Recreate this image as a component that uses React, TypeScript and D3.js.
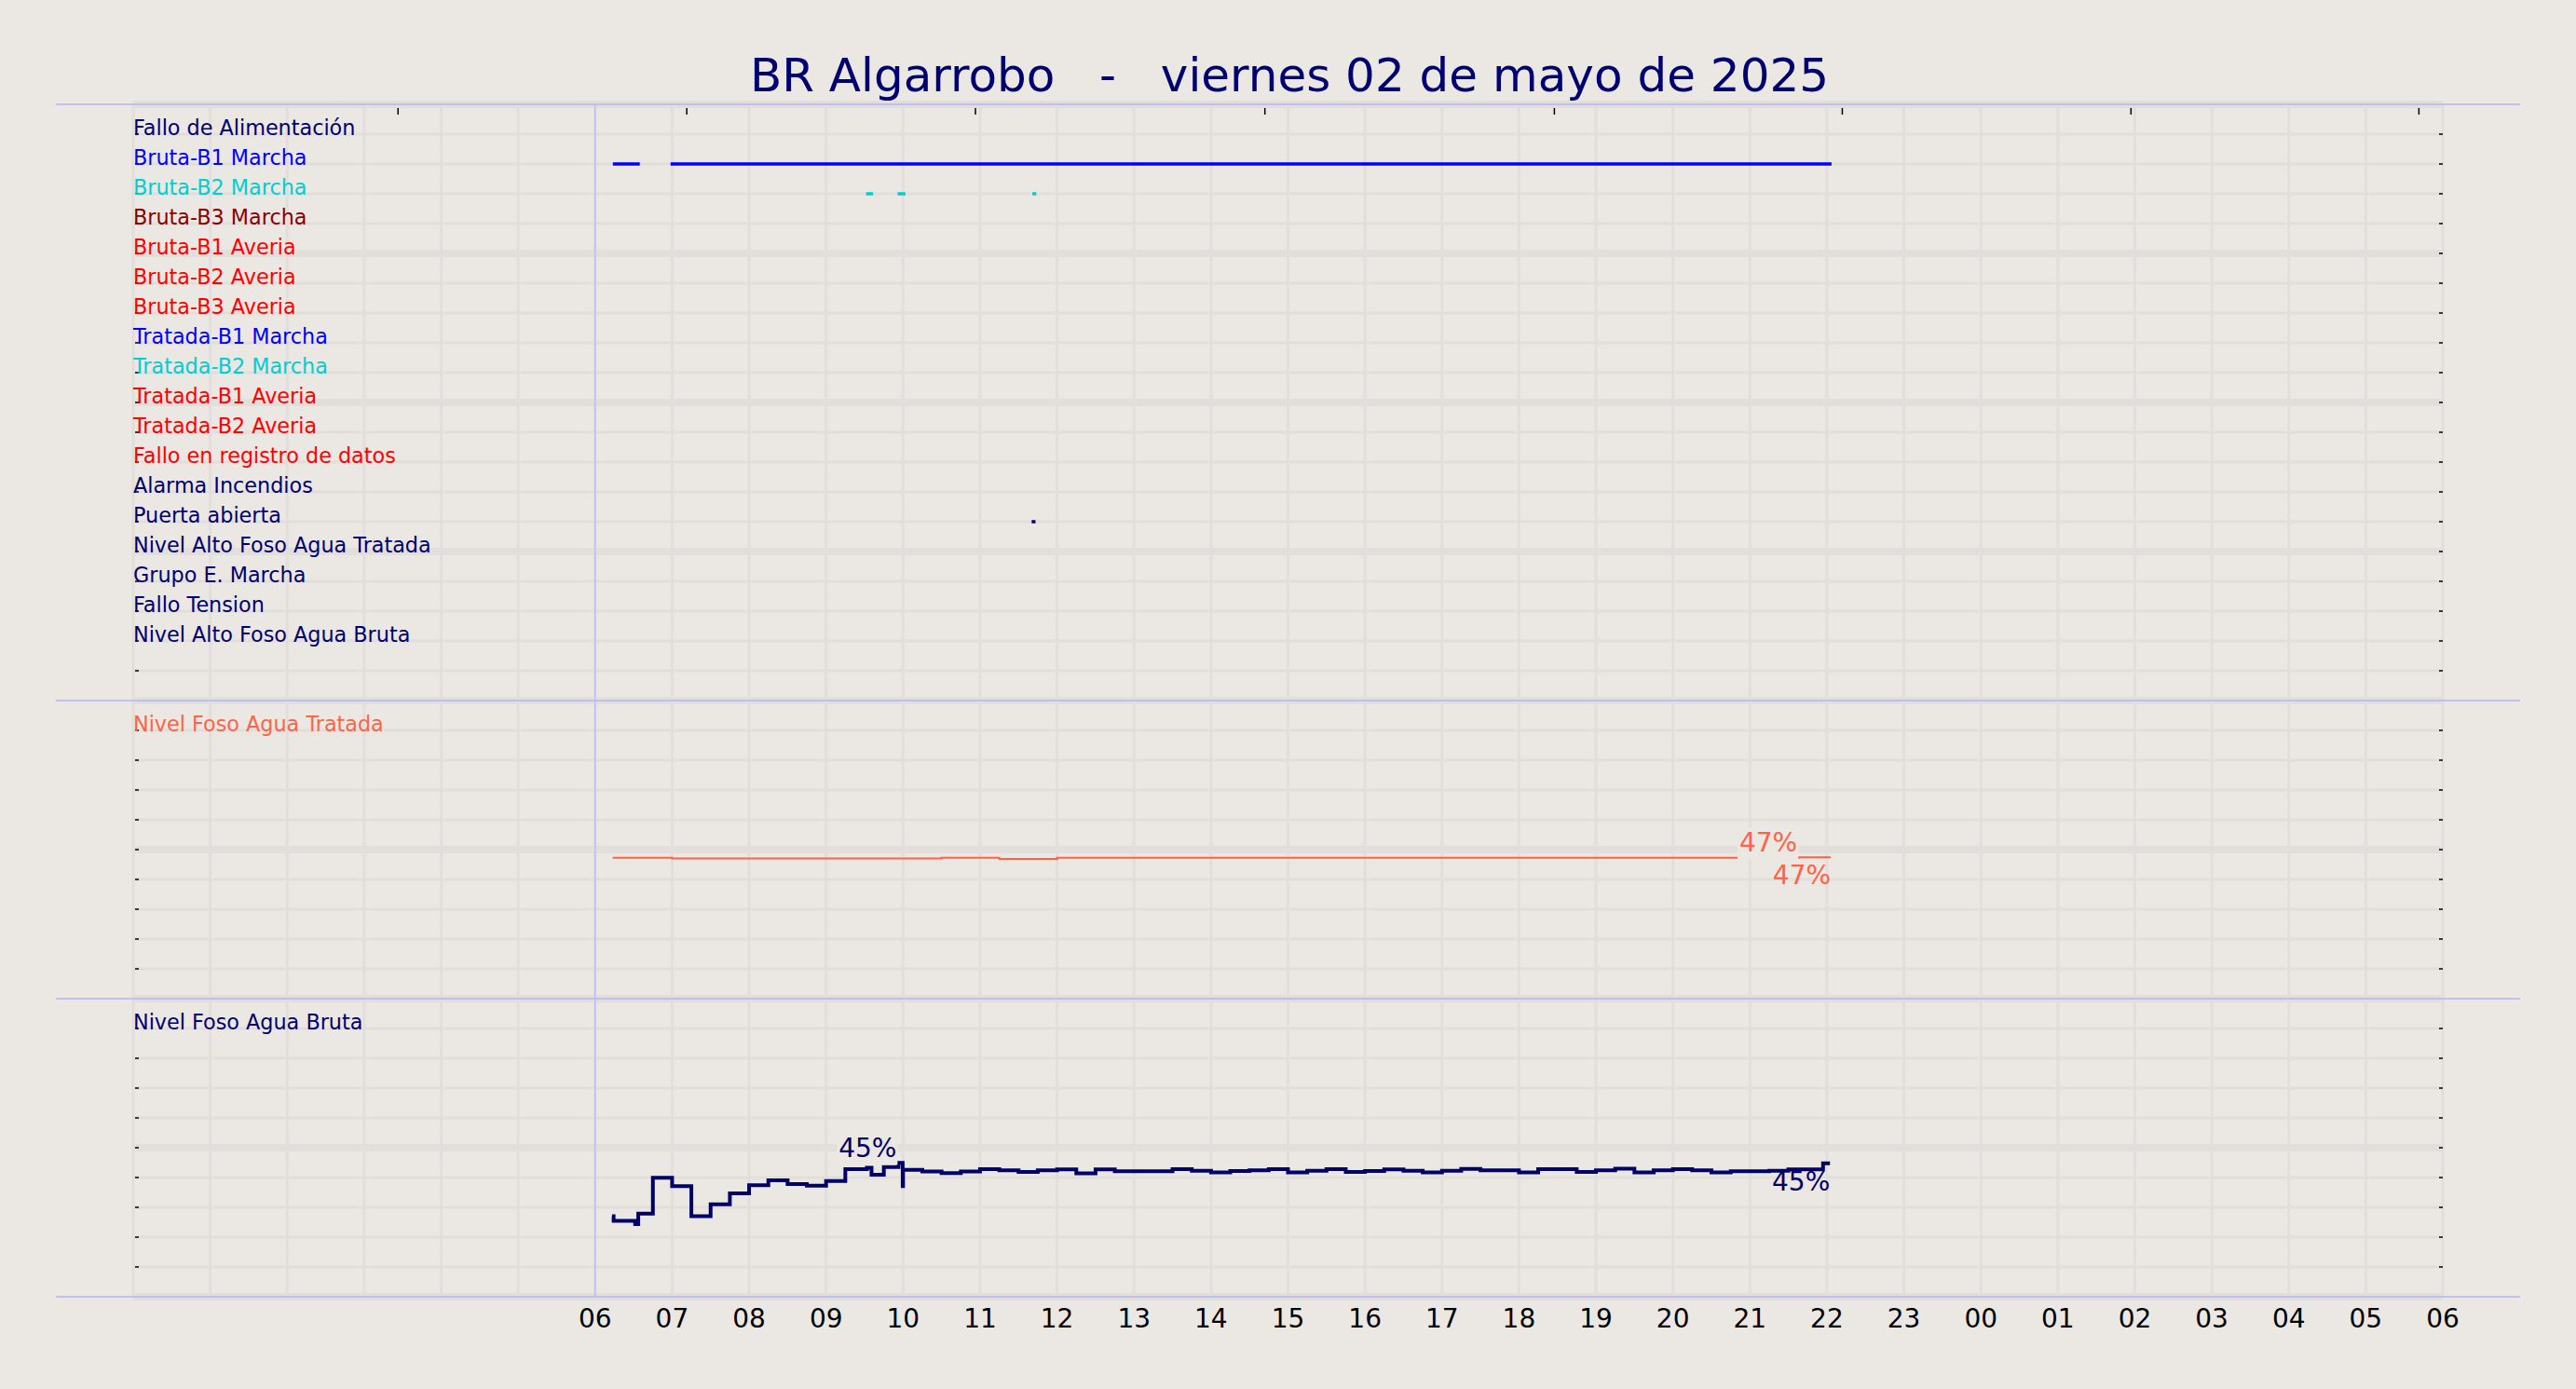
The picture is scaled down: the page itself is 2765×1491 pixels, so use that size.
import React from 'react';
import * as d3 from 'd3';

const W = 2765;
const H = 1491;

// ---- data ----
const titleText = 'BR Algarrobo   -   viernes 02 de mayo de 2025';

const rowLabels = [
  'Fallo de Alimentación',
  'Bruta-B1 Marcha',
  'Bruta-B2 Marcha',
  'Bruta-B3 Marcha',
  'Bruta-B1 Averia',
  'Bruta-B2 Averia',
  'Bruta-B3 Averia',
  'Tratada-B1 Marcha',
  'Tratada-B2 Marcha',
  'Tratada-B1 Averia',
  'Tratada-B2 Averia',
  'Fallo en registro de datos',
  'Alarma Incendios',
  'Puerta abierta',
  'Nivel Alto Foso Agua Tratada',
  'Grupo E. Marcha',
  'Fallo Tension',
  'Nivel Alto Foso Agua Bruta',
];
const rowColors = [
  '#000070', '#0000ff', '#00ced1', '#8b0000', '#ff0000', '#ff0000', '#ff0000',
  '#0000ff', '#00ced1', '#ff0000', '#ff0000', '#ff0000', '#000070', '#000070',
  '#000070', '#000070', '#000070', '#000070',
];

// on-intervals (hours) for digital signals, keyed by row index
const brutaB1Marcha: [number, number][] = [[6.23, 6.58], [6.98, 22.06]];
const brutaB2Marcha: [number, number][] = [[9.52, 9.61], [9.93, 10.03], [11.68, 11.73]];
const puertaAbierta: [number, number][] = [[11.67, 11.72]];

const xTickHours = [6, 7, 8, 9, 10, 11, 12, 13, 14, 15, 16, 17, 18, 19, 20, 21, 22, 23, 24, 25, 26, 27, 28, 29, 30];
const xTickLabels = ['06', '07', '08', '09', '10', '11', '12', '13', '14', '15', '16', '17', '18', '19', '20', '21', '22', '23', '00', '01', '02', '03', '04', '05', '06'];
const topTickHours = [3.44, 7.19, 10.94, 14.7, 18.46, 22.2, 25.95, 29.69];

// Nivel Foso Agua Tratada (%): [hour, value]
const tratadaLevel: [number, number][] = [
  [6.23, 47.3], [7.0, 47.0], [10.0, 47.0], [10.5, 47.3], [11.25, 46.9],
  [12.0, 47.3], [21.64, 47.4], [22.05, 47.4],
];

// Nivel Foso Agua Bruta (%): [hour, value]
const brutaLevel: [number, number][] = [
  [6.22, 27.0], [6.24, 25.5], [6.52, 24.4], [6.56, 27.9], [6.75, 39.9],
  [7.0, 37.1], [7.25, 27.0], [7.5, 31.0], [7.75, 34.7], [8.0, 37.4],
  [8.25, 39.1], [8.5, 37.8], [8.75, 37.3], [9.0, 38.8], [9.25, 42.8],
  [9.53, 43.3], [9.59, 40.9], [9.75, 43.5], [9.94, 44.9], [9.995, 37.1],
  [10.0, 42.6], [10.25, 42.0], [10.5, 41.5], [10.75, 42.0], [11.0, 42.8],
  [11.25, 42.4], [11.5, 41.9], [11.75, 42.4], [12.0, 42.7], [12.25, 41.4],
  [12.5, 42.7], [12.75, 42.1], [13.5, 42.8], [13.75, 42.3], [14.0, 41.7],
  [14.25, 42.2], [14.5, 42.4], [14.75, 42.8], [15.0, 41.7], [15.25, 42.3],
  [15.5, 42.8], [15.75, 41.9], [16.0, 42.2], [16.25, 42.7], [16.5, 42.3],
  [16.75, 41.7], [17.0, 42.3], [17.25, 42.9], [17.5, 42.4], [18.0, 41.7],
  [18.25, 42.8], [18.75, 41.9], [19.0, 42.4], [19.25, 43.0], [19.5, 41.7],
  [19.75, 42.4], [20.0, 42.8], [20.25, 42.4], [20.5, 41.7], [20.75, 42.1],
  [21.25, 42.3], [21.5, 42.7], [21.95, 44.8], [22.04, 44.8],
];

// ---- styles ----
const BG = '#ebe7e2';
const GRID = '#e2dedc';
const SEP = '#b4b4fb';
const FONT = 'DejaVu Sans, Liberation Sans, sans-serif';

const x = d3.scaleLinear().domain([0, 30]).range([143, 2622]);
const yTop = d3.scaleLinear().domain([0, 20]).range([752, 112]);
const yMid = d3.scaleLinear().domain([0, 100]).range([1072, 752]);
const yBot = d3.scaleLinear().domain([0, 100]).range([1392, 1072]);

function Panel({ y, minorStep, majorStep, max, tickVals }: any) {
  const vals = d3.range(0, max + 0.001, minorStep);
  return (
    <g>
      {vals.filter((v) => Math.abs(v % majorStep) > 1e-6).map((v) => (
        <line key={'mi' + v} x1={x(0)} x2={x(30)} y1={y(v)} y2={y(v)} stroke={GRID} strokeWidth={3} />
      ))}
      {vals.filter((v) => Math.abs(v % majorStep) < 1e-6).map((v) => (
        <line key={'ma' + v} x1={x(0)} x2={x(30)} y1={y(v)} y2={y(v)} stroke={GRID} strokeWidth={8} />
      ))}
      {tickVals.map((v: number) => (
        <g key={'t' + v}>
          <line x1={x(0) + 2} x2={x(0) + 6} y1={y(v)} y2={y(v)} stroke="#000" strokeWidth={1.5} />
          <line x1={x(30) - 4} x2={x(30)} y1={y(v)} y2={y(v)} stroke="#000" strokeWidth={1.5} />
        </g>
      ))}
    </g>
  );
}

function LevelSeries({ data, y, color, width }: any) {
  const line = d3.line<[number, number]>()
    .x((d) => x(d[0]))
    .y((d) => y(d[1]))
    .curve(d3.curveStepAfter);
  const peakIdx = d3.maxIndex(data, (d: [number, number]) => d[1]);
  const peak = data[peakIdx];
  const last = data[data.length - 1];
  const fs = 28;
  const lw = fs * 2.22;
  const px = x(peak[0]) - 1;
  const py = y(peak[1]) - 6;
  return (
    <g>
      <path d={line(data) || ''} fill="none" stroke={color} strokeWidth={width} strokeLinejoin="miter" />
      <rect x={px - lw - 3} y={py - fs * 0.95} width={lw + 3} height={fs * 0.95 + 8} fill={BG} />
      <text x={px - 1} y={py} textAnchor="end" fontSize={fs} fill={color} fontFamily={FONT}>
        {`${Math.round(peak[1])}%`}
      </text>
      <text x={x(last[0])} y={y(last[1]) + 29} textAnchor="end" fontSize={fs} fill={color} fontFamily={FONT}>
        {`${Math.round(last[1])}%`}
      </text>
    </g>
  );
}

export default function App() {
  const topTicks = d3.range(1, 20);
  const pctTicks = d3.range(10, 100, 10);
  const digital: { row: number; segs: [number, number][] }[] = [
    { row: 1, segs: brutaB1Marcha },
    { row: 2, segs: brutaB2Marcha },
    { row: 13, segs: puertaAbierta },
  ];
  return (
    <svg width={W} height={H} style={{ position: 'absolute', left: 0, top: 0, display: 'block' }}>
      <rect x={0} y={0} width={W} height={H} fill={BG} />

      {/* vertical hourly gridlines */}
      {d3.range(0, 31).map((h) => (
        <line key={'vg' + h} x1={x(h)} x2={x(h)} y1={112} y2={1392} stroke={GRID} strokeWidth={3} />
      ))}

      <Panel y={yTop} minorStep={1} majorStep={5} max={20} tickVals={topTicks} />
      <Panel y={yMid} minorStep={10} majorStep={50} max={100} tickVals={pctTicks} />
      <Panel y={yBot} minorStep={10} majorStep={50} max={100} tickVals={pctTicks} />

      {/* top ticks */}
      {topTickHours.map((h) => (
        <line key={'tt' + h} x1={x(h)} x2={x(h)} y1={116} y2={123} stroke="#000" strokeWidth={1.5} />
      ))}

      {/* separators */}
      {[112, 752, 1072, 1392].map((yy) => (
        <line key={'s' + yy} x1={60} x2={2705} y1={yy} y2={yy} stroke={SEP} strokeWidth={1.5} />
      ))}
      <line x1={x(6)} x2={x(6)} y1={112} y2={1391} stroke={SEP} strokeWidth={1.2} />

      {/* row labels */}
      {rowLabels.map((lab, i) => (
        <text key={lab} x={143} y={yTop(19 - i) + 0.5} fontSize={22.3} fill={rowColors[i]} fontFamily={FONT}>
          {lab}
        </text>
      ))}
      <text x={143} y={yMid(90) + 0.5} fontSize={22.3} fill="#ff6347" fontFamily={FONT}>Nivel Foso Agua Tratada</text>
      <text x={143} y={yBot(90) + 0.5} fontSize={22.3} fill="#000070" fontFamily={FONT}>Nivel Foso Agua Bruta</text>

      {/* digital signals */}
      {digital.map((d) =>
        d.segs.map((s, k) => (
          <line key={d.row + '-' + k} x1={x(s[0])} x2={x(s[1])} y1={yTop(19 - d.row)} y2={yTop(19 - d.row)}
            stroke={rowColors[d.row]} strokeWidth={3.5} />
        ))
      )}

      <LevelSeries data={tratadaLevel} y={yMid} color="#ff6347" width={2} />
      <LevelSeries data={brutaLevel} y={yBot} color="#000068" width={4} />

      {/* x tick labels */}
      {xTickHours.map((h, i) => (
        <text key={'xl' + i} x={x(h)} y={1425} textAnchor="middle" fontSize={28} fill="#000" fontFamily={FONT}>
          {xTickLabels[i]}
        </text>
      ))}

      {/* title */}
      <text x={1384} y={98} textAnchor="middle" fontSize={50} fill="#000070" fontFamily={FONT} style={{ whiteSpace: 'pre' }}>
        {titleText}
      </text>
    </svg>
  );
}
